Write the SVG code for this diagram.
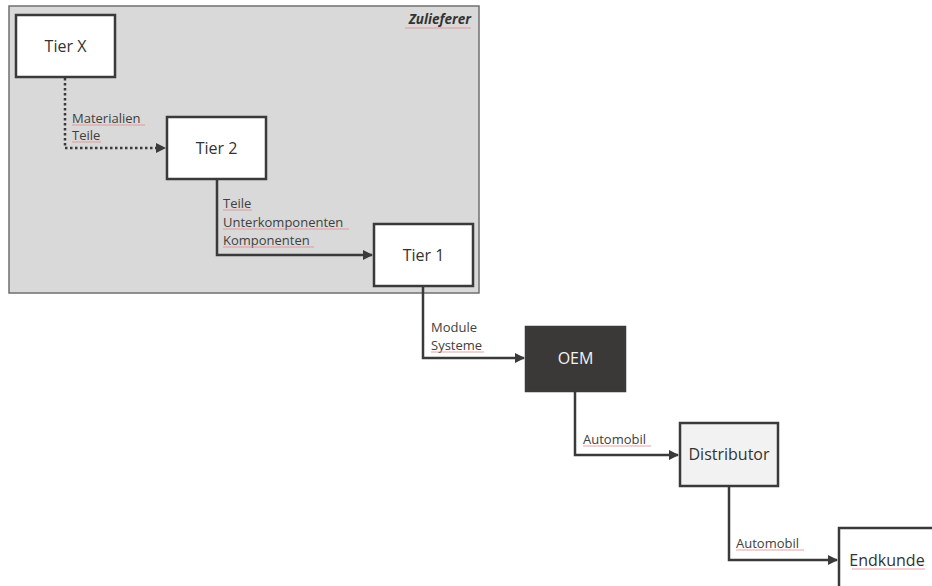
<svg xmlns="http://www.w3.org/2000/svg" width="932" height="586" viewBox="0 0 932 586">
  <defs>
    <marker id="arrow" viewBox="0 0 10 10" refX="9" refY="5" markerWidth="4" markerHeight="4" orient="auto" markerUnits="strokeWidth">
      <path d="M0,0 L10,5 L0,10 Z" fill="#3a3a3a"/>
    </marker>
    <style>
      .box { stroke: #3a3a3a; stroke-width: 2.5; }
      .node-text { font-family: "Open Sans", "Liberation Sans", sans-serif; font-size: 16px; fill: #333333; text-anchor: middle; }
      .label { font-family: "Open Sans", "Liberation Sans", sans-serif; font-size: 13px; fill: #404040; }
      .conn { fill: none; stroke: #3a3a3a; stroke-width: 2.5; }
      .dotted { stroke-dasharray: 2.5 2.5; }
      .squiggle { stroke: #e88a8a; stroke-width: 1; fill: none; opacity: 0.8; }
    </style>
  </defs>

  <rect width="932" height="586" fill="#ffffff"/>

  <!-- supplier area -->
  <g id="zulieferer">
    <rect x="9" y="6" width="470" height="287" fill="#d9d9d9" stroke="#6f6f6f" stroke-width="1.5"/>
    <text x="471" y="24" text-anchor="end" font-family="Open Sans, Liberation Sans, sans-serif" font-size="13.5" font-style="italic" font-weight="bold" fill="#333333">Zulieferer</text>
    <line class="squiggle" x1="405" y1="28" x2="471" y2="28"/>
  </g>

  <!-- connectors -->
  <g id="connectors">
    <path class="conn dotted" d="M65,78 V148 H165" marker-end="url(#arrow)"/>
    <path class="conn" d="M217,180 V255 H372" marker-end="url(#arrow)"/>
    <path class="conn" d="M423,287 V358 H524" marker-end="url(#arrow)"/>
    <path class="conn" d="M575,392 V455 H678" marker-end="url(#arrow)"/>
    <path class="conn" d="M729,487 V560 H837" marker-end="url(#arrow)"/>

    <text class="label" x="72" y="123">Materialien</text>
    <text class="label" x="72" y="140">Teile</text>
    <text class="label" x="223" y="208">Teile</text>
    <text class="label" x="223" y="227">Unterkomponenten</text>
    <text class="label" x="223" y="245">Komponenten</text>
    <text class="label" x="431" y="332">Module</text>
    <text class="label" x="431" y="350">Systeme</text>
    <text class="label" x="583" y="444">Automobil</text>
    <text class="label" x="736" y="548">Automobil</text>

    <line class="squiggle" x1="72" y1="125" x2="145" y2="125"/>
    <line class="squiggle" x1="72" y1="142" x2="101" y2="142"/>
    <line class="squiggle" x1="223" y1="210" x2="252" y2="210"/>
    <line class="squiggle" x1="223" y1="229" x2="349" y2="229"/>
    <line class="squiggle" x1="223" y1="247" x2="314" y2="247"/>
    <line class="squiggle" x1="431" y1="352" x2="484" y2="352"/>
    <line class="squiggle" x1="583" y1="446" x2="651" y2="446"/>
    <line class="squiggle" x1="736" y1="550" x2="804" y2="550"/>
  </g>

  <g id="tier-x">
    <rect class="box" x="16" y="15" width="99" height="62" fill="#ffffff"/>
    <text class="node-text" x="65.5" y="52">Tier X</text>
  </g>

  <g id="tier-2">
    <rect class="box" x="167" y="117" width="99" height="62" fill="#ffffff"/>
    <text class="node-text" x="216.5" y="154">Tier 2</text>
  </g>

  <g id="tier-1">
    <rect class="box" x="374" y="224" width="99" height="62" fill="#ffffff"/>
    <text class="node-text" x="423.5" y="261">Tier 1</text>
  </g>

  <g id="oem">
    <rect class="box" x="526" y="327" width="99" height="64" fill="#3b3838"/>
    <text class="node-text" x="575.5" y="364" style="fill:#f2f2f2">OEM</text>
  </g>

  <g id="distributor">
    <rect class="box" x="680" y="423" width="98" height="63" fill="#f2f2f2"/>
    <text class="node-text" x="729" y="460">Distributor</text>
  </g>

  <g id="endkunde">
    <rect class="box" x="839" y="528" width="110" height="70" fill="#ffffff"/>
    <text class="node-text" x="887" y="566">Endkunde</text>
    <line class="squiggle" x1="852" y1="569" x2="925" y2="569"/>
  </g>
</svg>
